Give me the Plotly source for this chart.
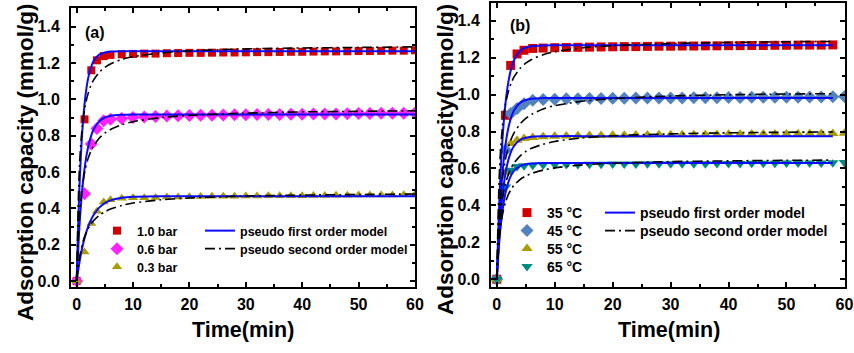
import plotly.graph_objects as go

# ---------------- data ----------------
# panel (a): pressure series
TA = [0, 1.4, 2.6, 3.6, 4.8, 6.0, 8, 10, 12, 14, 16, 18, 20, 22, 24, 26, 28, 30,
      32, 34, 36, 38, 40, 42, 44, 46, 48, 50, 52, 54, 56, 58, 60]
A_10 = [0, 0.89, 1.16, 1.215, 1.238, 1.245, 1.248, 1.250, 1.252, 1.252, 1.254, 1.255,
        1.256, 1.256, 1.257, 1.258, 1.258, 1.259, 1.260, 1.260, 1.261, 1.262, 1.262,
        1.263, 1.264, 1.264, 1.265, 1.266, 1.266, 1.267, 1.268, 1.268, 1.270]
A_06 = [0, 0.48, 0.754, 0.84, 0.882, 0.891, 0.895, 0.900, 0.903, 0.906, 0.908, 0.910,
        0.911, 0.912, 0.913, 0.914, 0.915, 0.915, 0.916, 0.916, 0.917, 0.918, 0.918,
        0.919, 0.920, 0.920, 0.921, 0.922, 0.922, 0.923, 0.924, 0.924, 0.925]
A_03 = [0, 0.16, 0.316, 0.384, 0.435, 0.448, 0.455, 0.458, 0.458, 0.460, 0.462, 0.463,
        0.464, 0.465, 0.466, 0.466, 0.467, 0.468, 0.468, 0.469, 0.469, 0.470, 0.470,
        0.471, 0.471, 0.472, 0.472, 0.473, 0.473, 0.474, 0.474, 0.475, 0.476]

TFA = [0, 0.5, 1, 1.5, 2, 2.5, 3, 4, 5, 6, 8, 10, 15, 20, 30, 40, 50, 60]
A_PFO_10 = [0, 0.516, 0.822, 1.003, 1.110, 1.173, 1.211, 1.246, 1.258, 1.263, 1.265,
            1.265, 1.265, 1.265, 1.265, 1.265, 1.265, 1.265]
A_PSO_10 = [0, 0.633, 0.852, 0.962, 1.029, 1.074, 1.106, 1.149, 1.176, 1.195, 1.220,
            1.235, 1.256, 1.267, 1.278, 1.283, 1.286, 1.289]
A_PFO_06 = [0, 0.302, 0.505, 0.641, 0.732, 0.793, 0.834, 0.879, 0.900, 0.909, 0.915,
            0.917, 0.917, 0.917, 0.917, 0.917, 0.917, 0.917]
A_PSO_06 = [0, 0.356, 0.518, 0.611, 0.671, 0.713, 0.743, 0.786, 0.814, 0.834, 0.860,
            0.877, 0.900, 0.912, 0.924, 0.931, 0.934, 0.937]
A_PFO_03 = [0, 0.103, 0.184, 0.247, 0.295, 0.333, 0.363, 0.404, 0.429, 0.444, 0.458,
            0.464, 0.467, 0.467, 0.467, 0.467, 0.467, 0.467]
A_PSO_03 = [0, 0.127, 0.202, 0.251, 0.286, 0.312, 0.332, 0.361, 0.381, 0.396, 0.416,
            0.429, 0.447, 0.457, 0.468, 0.473, 0.476, 0.479]

# panel (b): temperature series
TB = [0, 1.5, 2.4, 3.5, 4.7, 6.2, 8, 10, 12, 14, 16, 18, 20, 22, 24, 26, 28, 30,
      32, 34, 36, 38, 40, 42, 44, 46, 48, 50, 52, 54, 56, 58, 60]
B_35 = [0, 0.888, 1.158, 1.22, 1.24, 1.25, 1.252, 1.254, 1.255, 1.256, 1.257, 1.258,
        1.259, 1.260, 1.260, 1.261, 1.262, 1.262, 1.263, 1.263, 1.264, 1.264, 1.265,
        1.265, 1.266, 1.266, 1.267, 1.267, 1.268, 1.268, 1.268, 1.269]
B_45 = [0, 0.70, 0.897, 0.924, 0.951, 0.969, 0.973, 0.975, 0.977, 0.978, 0.979, 0.979,
        0.980, 0.980, 0.981, 0.981, 0.982, 0.982, 0.982, 0.983, 0.983, 0.983, 0.984,
        0.984, 0.985, 0.985, 0.985, 0.986, 0.986, 0.987, 0.987, 0.988, 0.990]
B_55 = [0, 0.58, 0.735, 0.753, 0.762, 0.768, 0.772, 0.774, 0.776, 0.777, 0.778, 0.779,
        0.780, 0.780, 0.781, 0.781, 0.782, 0.782, 0.783, 0.783, 0.784, 0.784, 0.785,
        0.785, 0.786, 0.786, 0.787, 0.787, 0.788, 0.788, 0.789, 0.789, 0.790]
B_65 = [0, 0.50, 0.59, 0.61, 0.615, 0.618, 0.620, 0.621, 0.622, 0.622, 0.623, 0.623,
        0.624, 0.624, 0.624, 0.625, 0.625, 0.625, 0.626, 0.626, 0.626, 0.627, 0.627,
        0.627, 0.628, 0.628, 0.628, 0.629, 0.629, 0.630, 0.630, 0.631, 0.632]

TFB = [0, 0.5, 1, 1.5, 2, 2.5, 3, 4, 5, 6, 8, 10, 15, 20, 30, 40, 50, 58]
B_PFO_35 = [0, 0.471, 0.766, 0.953, 1.069, 1.143, 1.189, 1.236, 1.255, 1.262, 1.266,
            1.267, 1.267, 1.267, 1.267, 1.267, 1.267, 1.267]
B_PSO_35 = [0, 0.616, 0.836, 0.949, 1.017, 1.064, 1.097, 1.141, 1.170, 1.190, 1.216,
            1.232, 1.254, 1.265, 1.276, 1.282, 1.286, 1.288]
B_PFO_45 = [0, 0.356, 0.583, 0.728, 0.820, 0.879, 0.916, 0.955, 0.971, 0.978, 0.981,
            0.982, 0.982, 0.982, 0.982, 0.982, 0.982, 0.982]
B_PSO_45 = [0, 0.376, 0.550, 0.650, 0.715, 0.760, 0.794, 0.840, 0.871, 0.893, 0.922,
            0.940, 0.965, 0.978, 0.992, 0.999, 1.003, 1.005]
B_PFO_55 = [0, 0.281, 0.460, 0.574, 0.647, 0.694, 0.723, 0.754, 0.766, 0.772, 0.774,
            0.775, 0.775, 0.775, 0.775, 0.775, 0.775, 0.775]
B_PSO_55 = [0, 0.299, 0.437, 0.516, 0.568, 0.603, 0.630, 0.667, 0.692, 0.709, 0.731,
            0.746, 0.766, 0.777, 0.787, 0.793, 0.796, 0.798]
B_PFO_65 = [0, 0.228, 0.374, 0.467, 0.526, 0.564, 0.588, 0.613, 0.623, 0.627, 0.630,
            0.630, 0.630, 0.630, 0.630, 0.630, 0.630, 0.630]
B_PSO_65 = [0, 0.242, 0.353, 0.417, 0.459, 0.488, 0.510, 0.540, 0.559, 0.573, 0.591,
            0.603, 0.620, 0.628, 0.637, 0.641, 0.644, 0.645]

X_TICKS = [0, 10, 20, 30, 40, 50, 60]
Y_TICKS = [0.0, 0.2, 0.4, 0.6, 0.8, 1.0, 1.2, 1.4]

# ---------------- styling ----------------
W, H = 854, 353
FONT = "Arial, Liberation Sans, sans-serif"
RED, MAG, OLIVE = "#d40000", "#ff22ff", "#ab9c00"
STEEL, TEAL = "#5283be", "#008c82"
BLUE = "#0a0aff"
PSO_DASH = "10px,4px,2px,4px"

fig = go.Figure()
legends = {}
_n = [0]


def new_legend(x_px, yc_px, size):
    _n[0] += 1
    key = "legend" if _n[0] == 1 else "legend%d" % _n[0]
    legends[key] = dict(x=x_px / W, y=(H - yc_px) / H, xanchor="left", yanchor="middle",
                        bgcolor="rgba(0,0,0,0)", borderwidth=0,
                        font=dict(family=FONT, size=size, color="black", weight="bold"))
    return key


def markers(x, y, name, color, symbol, size, xa, ya, legend):
    fig.add_trace(go.Scatter(x=x, y=y, mode="markers", name=name,
                             marker=dict(color=color, symbol=symbol, size=size, line=dict(width=0)),
                             xaxis=xa, yaxis=ya, legend=legend))


def line(x, y, name, color, dash, width, xa, ya, legend):
    fig.add_trace(go.Scatter(x=x, y=y, mode="lines", name=name, showlegend=legend is not None,
                             line=dict(color=color, dash=dash, width=width, shape="spline", smoothing=0.8),
                             xaxis=xa, yaxis=ya, legend=legend or "legend"))


# panel (a)
markers(TA, A_10, "1.0 bar", RED, "square", 8, "x", "y", new_legend(97, 231, 12.5))
markers(TA, A_06, "0.6 bar", MAG, "diamond", 10, "x", "y", new_legend(97, 249, 12.5))
markers(TA, A_03, "0.3 bar", OLIVE, "triangle-up", 9, "x", "y", new_legend(97, 267, 12.5))
lg = new_legend(200, 231, 12.5)
for i, yy in enumerate([A_PFO_10, A_PFO_06, A_PFO_03]):
    line(TFA, yy, "pseudo first order model", BLUE, "solid", 2, "x", "y", lg if i == 0 else None)
lg = new_legend(200, 249, 12.5)
for i, yy in enumerate([A_PSO_10, A_PSO_06, A_PSO_03]):
    line(TFA, yy, "pseudo second order model", "black", PSO_DASH, 1.6, "x", "y", lg if i == 0 else None)

# panel (b)
markers(TB[:len(B_35)], B_35, "35 °C", RED, "square", 9, "x2", "y2", new_legend(507, 213, 14))
markers(TB, B_45, "45 °C", STEEL, "diamond", 10, "x2", "y2", new_legend(507, 231, 14))
markers(TB, B_55, "55 °C", OLIVE, "triangle-up", 10, "x2", "y2", new_legend(507, 249, 14))
markers(TB, B_65, "65 °C", TEAL, "triangle-down", 10, "x2", "y2", new_legend(507, 267, 14))
lg = new_legend(600, 213, 14)
for i, yy in enumerate([B_PFO_35, B_PFO_45, B_PFO_55, B_PFO_65]):
    line(TFB, yy, "pseudo first order model", BLUE, "solid", 2, "x2", "y2", lg if i == 0 else None)
lg = new_legend(600, 231, 14)
for i, yy in enumerate([B_PSO_35, B_PSO_45, B_PSO_55, B_PSO_65]):
    line(TFB, yy, "pseudo second order model", "black", PSO_DASH, 1.6, "x2", "y2", lg if i == 0 else None)

tickfont = dict(family=FONT, size=16, color="black", weight="bold")
common = dict(showline=True, linecolor="black", linewidth=2, mirror="allticks",
              ticks="inside", ticklen=5, tickwidth=1.5, tickcolor="black",
              showgrid=False, zeroline=False, tickfont=tickfont, automargin=False)

xa = dict(common, tickvals=X_TICKS, ticklabelstandoff=2,
          minor=dict(ticks="inside", ticklen=3, tickwidth=1.5,
                     tickcolor="black", dtick=5, tick0=0))
ya = dict(common, tickvals=Y_TICKS, tickformat=".1f", ticklabelstandoff=6,
          minor=dict(ticks="inside", ticklen=3, tickwidth=1.5, tickcolor="black", dtick=0.1, tick0=0))

y_bot = (H - 287) / H
fig.update_layout(
    width=W, height=H, margin=dict(l=0, r=0, t=0, b=0, autoexpand=False),
    paper_bgcolor="white", plot_bgcolor="white", hovermode=False,
    xaxis=dict(xa, domain=[71 / W, 415 / W], range=[-1.0, 60], anchor="y"),
    yaxis=dict(ya, domain=[y_bot, (H - 8) / H], range=[-0.033, 1.503], anchor="x"),
    xaxis2=dict(xa, domain=[491 / W, 845 / W], range=[-1.0, 60.1], anchor="y2"),
    yaxis2=dict(ya, domain=[y_bot, (H - 3) / H], range=[-0.042, 1.496], anchor="x2"),
    **legends,
)

title_font = dict(family=FONT, size=21.5, color="black", weight="bold")
ytitle_font = dict(family=FONT, size=22.5, color="black", weight="bold")
fig.add_annotation(text="Time(min)", x=243 / W, y=(H - 330) / H, xref="paper", yref="paper",
                   showarrow=False, font=title_font, xanchor="center", yanchor="middle")
fig.add_annotation(text="Time(min)", x=669 / W, y=(H - 330) / H, xref="paper", yref="paper",
                   showarrow=False, font=title_font, xanchor="center", yanchor="middle")
fig.add_annotation(text="Adsorption capacity (mmol/g)", x=25 / W, y=(H - 162) / H,
                   xref="paper", yref="paper", showarrow=False, textangle=-90,
                   font=ytitle_font, xanchor="center", yanchor="middle")
fig.add_annotation(text="Adsorption capacity(mmol/g)", x=445 / W, y=(H - 160) / H,
                   xref="paper", yref="paper", showarrow=False, textangle=-90,
                   font=ytitle_font, xanchor="center", yanchor="middle")
panel_font = dict(family=FONT, size=16, color="black", weight="bold")
fig.add_annotation(text="(a)", x=95 / W, y=(H - 33) / H, xref="paper", yref="paper",
                   showarrow=False, font=panel_font, xanchor="center", yanchor="middle")
fig.add_annotation(text="(b)", x=520 / W, y=(H - 25) / H, xref="paper", yref="paper",
                   showarrow=False, font=panel_font, xanchor="center", yanchor="middle")

fig.write_html("out.html", config={"displayModeBar": False},
               post_script="document.body.style.margin='0';document.body.style.padding='0';")
